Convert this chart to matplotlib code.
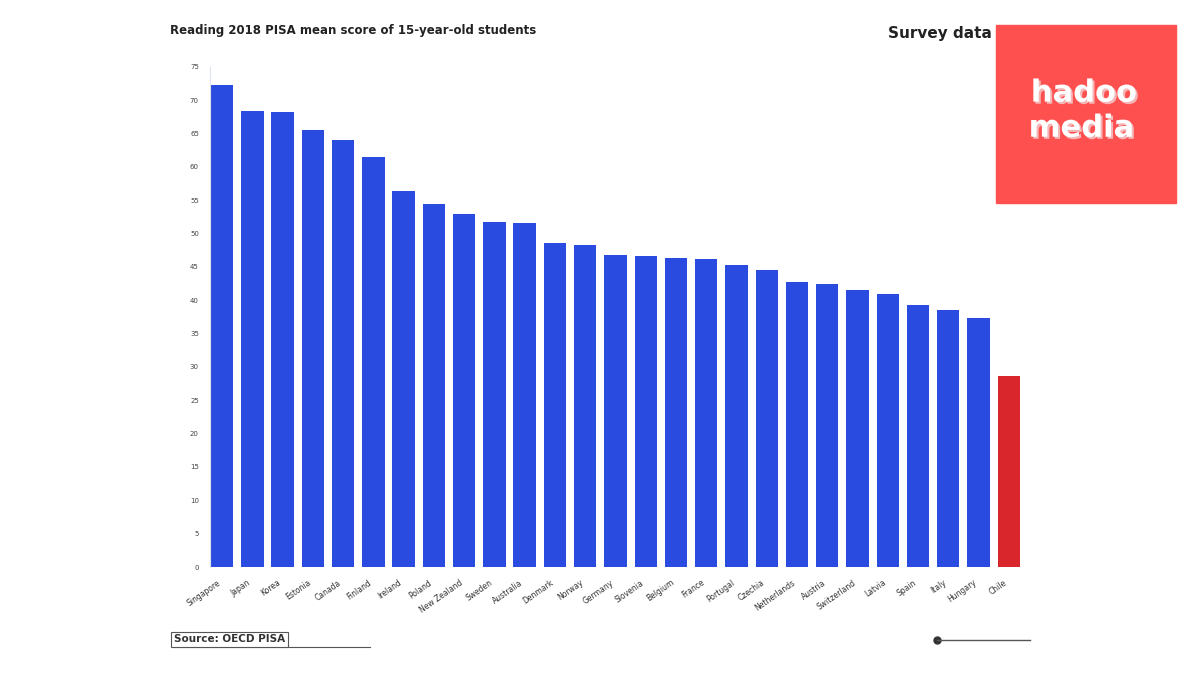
import matplotlib
matplotlib.use("Agg")
import matplotlib.pyplot as plt
import matplotlib.patheffects as pe
from matplotlib.patches import Rectangle

# Data
countries = ["Singapore", "Japan", "Korea", "Estonia", "Canada", "Finland",
             "Ireland", "Poland", "New Zealand", "Sweden", "Australia",
             "Denmark", "Norway", "Germany", "Slovenia", "Belgium",
             "France", "Portugal", "Czechia", "Netherlands", "Austria",
             "Switzerland", "Latvia", "Spain", "Italy", "Hungary", "Chile"]
scores = [72.3, 68.4, 68.3, 65.6, 64.1, 61.5, 56.4, 54.5, 53.0, 51.8, 51.6,
          48.6, 48.3, 46.8, 46.7, 46.4, 46.2, 45.3, 44.6, 42.8, 42.5, 41.6,
          41.0, 39.3, 38.6, 37.4, 28.7]
yticks = list(range(0, 80, 5))

blue = "#2A4BE0"
red = "#D9262C"
colors = [blue] * (len(scores) - 1) + [red]

fig = plt.figure(figsize=(12, 6.75), dpi=100)
ax = fig.add_axes([0.175, 0.16, 0.677, 0.741])

x = list(range(len(scores)))
ax.bar(x, scores, width=0.74, color=colors)
ax.set_xlim(-0.4, 26.45)
ax.set_ylim(0, 75)
ax.set_yticks(yticks)
ax.set_yticklabels([str(v) for v in yticks], fontsize=5, color="#444444")
ax.set_xticks(x)
ax.set_xticklabels(countries, rotation=35, ha="right", fontsize=5.5,
                   color="#333333")
ax.tick_params(length=0, pad=8)
for s in ["top", "right", "bottom"]:
    ax.spines[s].set_visible(False)
ax.spines["left"].set_color("#dde3ee")
ax.spines["left"].set_linewidth(0.8)

# Titles
fig.text(0.142, 0.955, "Reading 2018 PISA mean score of 15-year-old students",
         fontsize=8.5, fontweight="bold", color="#222222", va="center")
fig.text(0.74, 0.95, "Survey data", fontsize=11, fontweight="bold",
         color="#222222", va="center")

# Logo box
fig.patches.append(Rectangle((0.830, 0.699), 0.150, 0.264,
                             transform=fig.transFigure, color="#FF5050",
                             zorder=5))
shadow = [pe.withSimplePatchShadow(offset=(1.5, -1.5),
                                   shadow_rgbFace="#f4b6b6", alpha=1)]
fig.text(0.903, 0.862, "hadoo", fontsize=22, fontweight="bold",
         color="white", ha="center", va="center", zorder=6,
         path_effects=shadow)
fig.text(0.901, 0.81, "media", fontsize=22, fontweight="bold",
         color="white", ha="center", va="center", zorder=6,
         path_effects=shadow)

# Footer
fig.text(0.145, 0.053, "Source: OECD PISA", fontsize=7.5, fontweight="bold",
         color="#333333", va="center",
         bbox=dict(boxstyle="square,pad=0.25", fc="white", ec="#555555",
                   lw=0.8))
fig.add_artist(plt.Line2D([0.145, 0.308], [0.041, 0.041],
                          transform=fig.transFigure, color="#555555", lw=0.8))
fig.add_artist(plt.Line2D([0.781], [0.052], marker="o", markersize=5,
                          color="#333333", transform=fig.transFigure))
fig.add_artist(plt.Line2D([0.781, 0.858], [0.052, 0.052],
                          transform=fig.transFigure, color="#555555", lw=1))

fig.savefig("out.png", dpi=100, facecolor="white")
